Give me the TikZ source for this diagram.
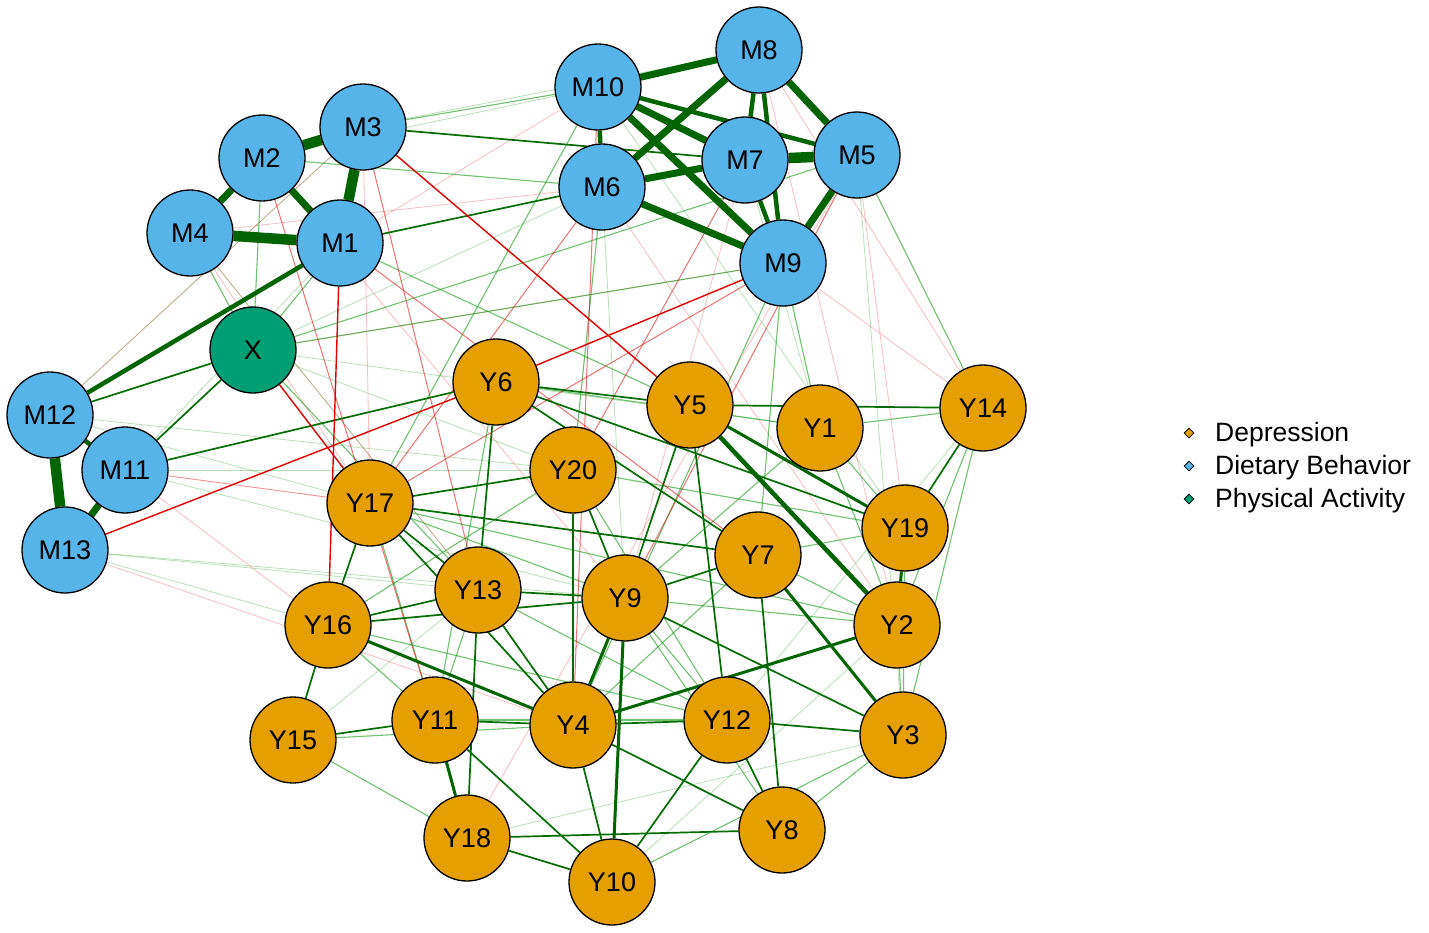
\documentclass[tikz,border=0pt]{standalone}
\usepackage{fontspec}
\setmainfont{Liberation Sans}
\usetikzlibrary{backgrounds,shapes.geometric}
\definecolor{cOr}{HTML}{E69F00}
\definecolor{cBl}{HTML}{56B4E9}
\definecolor{cGr}{HTML}{009E73}
\definecolor{dg}{HTML}{006400}
\definecolor{lg}{HTML}{119911}
\definecolor{rd}{HTML}{E00000}
\tikzset{
  nd/.style={circle,draw=black,line width=1.3pt,minimum size=86pt,inner sep=0pt,font=\fontsize{27}{29}\selectfont},
  yn/.style={nd,fill=cOr},
  mn/.style={nd,fill=cBl},
  xn/.style={nd,fill=cGr},
  gA/.style={dg,line width=10.5pt},
  gB/.style={dg,line width=7pt},
  gC/.style={dg,line width=4.5pt},
  gD/.style={dg,line width=3pt},
  gE/.style={dg!85!lg,line width=1.7pt},
  gF/.style={lg,line width=1.1pt,opacity=.6},
  gG/.style={lg,line width=.8pt,opacity=.3},
  rA/.style={rd,line width=1.4pt},
  rB/.style={rd,line width=1pt,opacity=.55},
  rC/.style={rd,line width=.8pt,opacity=.25},
  leg/.style={anchor=west,font=\fontsize{26.5}{28}\selectfont,inner sep=0pt},
  dia/.style={diamond,draw=black,line width=.8pt,inner sep=0pt,minimum size=10pt}
}
\begin{document}
\begin{tikzpicture}[x=1pt,y=-1pt]
\useasboundingbox (0,0) rectangle (1429,932);
% nodes
\node[mn] (M8) at (759,50) {M8};
\node[mn] (M10) at (598,87) {M10};
\node[mn] (M3) at (363,127) {M3};
\node[mn] (M2) at (262,158) {M2};
\node[mn] (M7) at (745,160) {M7};
\node[mn] (M5) at (857,155) {M5};
\node[mn] (M6) at (602,187) {M6};
\node[mn] (M4) at (190,233) {M4};
\node[mn] (M1) at (340,243) {M1};
\node[mn] (M9) at (783,263) {M9};
\node[xn] (X) at (253,350) {X};
\node[mn] (M12) at (50,415) {M12};
\node[mn] (M11) at (125,470) {M11};
\node[mn] (M13) at (65,550) {M13};
\node[yn] (Y6) at (496,382) {Y6};
\node[yn] (Y5) at (690,405) {Y5};
\node[yn] (Y1) at (820,428) {Y1};
\node[yn] (Y14) at (983,408) {Y14};
\node[yn] (Y20) at (573,470) {Y20};
\node[yn] (Y17) at (370,503) {Y17};
\node[yn] (Y19) at (905,528) {Y19};
\node[yn] (Y7) at (758,555) {Y7};
\node[yn] (Y13) at (478,590) {Y13};
\node[yn] (Y9) at (625,598) {Y9};
\node[yn] (Y16) at (328,625) {Y16};
\node[yn] (Y2) at (897,625) {Y2};
\node[yn] (Y15) at (293,740) {Y15};
\node[yn] (Y11) at (435,720) {Y11};
\node[yn] (Y4) at (573,725) {Y4};
\node[yn] (Y12) at (727,720) {Y12};
\node[yn] (Y3) at (903,735) {Y3};
\node[yn] (Y18) at (467,838) {Y18};
\node[yn] (Y8) at (782,830) {Y8};
\node[yn] (Y10) at (612,882) {Y10};
% edges
\begin{scope}[on background layer]
\foreach \a/\b in {M12/Y17,M11/Y9,M13/Y13,M11/M1,M12/M3,M3/M8,M10/Y19,M5/Y3,M7/Y1,M6/Y9,X/Y20,X/Y1,M4/Y13,M13/Y16,M11/Y20,Y15/Y13,Y18/Y3,Y10/Y2,Y14/Y12,M10/M2,M6/X,M12/Y20,M13/Y9}
  \draw[gG] (\a) -- (\b);
\foreach \a/\b in {M12/M3,M11/Y17,M4/Y13,M2/Y9,M13/Y4,M12/Y16,M11/Y7,M8/Y14,M5/Y19,M9/Y14,M7/Y9,M8/Y2,M4/Y17,M10/M1,M6/M4,M5/Y18,M9/X,M3/Y17,M6/Y2}
  \draw[rC] (\a) -- (\b);
\foreach \a/\b in {Y15/Y18,Y14/Y2,Y14/Y3,Y14/Y1,Y1/Y19,Y9/Y2,Y16/Y11,Y6/Y1,Y6/Y11,Y13/Y11,Y20/Y16,Y17/Y11,Y17/Y2,Y15/Y4,Y1/Y2,Y1/Y9,Y7/Y2,Y7/Y19,Y7/Y4,Y20/Y19,Y20/Y12,Y19/Y3,Y2/Y3,Y13/Y12,Y9/Y12,Y9/Y8,Y3/Y8,Y16/Y12,Y17/Y9,Y10/Y3,Y11/Y12,X/Y13,X/M5,X/M9,M3/M10,M2/M6,M1/Y5,M9/Y4,M9/Y1,M6/Y20,M10/Y17,M4/X,M2/X,M1/X,M9/Y7,M5/Y14}
  \draw[gF] (\a) -- (\b);
\foreach \a/\b in {M1/Y7,M6/Y17,M5/Y9,M3/Y13,M9/Y17,M10/Y4,M7/Y20,M2/Y11}
  \draw[rB] (\a) -- (\b);
\foreach \a/\b in {Y6/Y5,Y6/Y13,Y17/Y20,Y17/Y7,Y17/Y13,Y17/Y16,Y20/Y4,Y20/Y9,Y13/Y9,Y16/Y13,Y5/Y9,Y5/Y12,Y5/Y14,Y12/Y3,Y4/Y12,Y4/Y8,Y12/Y8,Y12/Y10,Y18/Y8,Y7/Y8,Y16/Y15,Y15/Y11,Y11/Y4,Y13/Y18,Y13/Y4,Y4/Y10,Y18/Y10,Y11/Y10,M12/X,M11/X,Y6/Y19,Y6/Y7,Y9/Y3,Y16/Y9,Y14/Y19,Y17/Y4,M3/M7,M1/M6,M11/Y6,Y9/Y7}
  \draw[gE] (\a) -- (\b);
\foreach \a/\b in {M13/Y6,X/Y17,M1/Y16,M3/Y5,Y6/M9}
  \draw[rA] (\a) -- (\b);
\foreach \a/\b in {Y5/Y19,Y7/Y3,Y4/Y2,Y16/Y4,Y9/Y10,Y11/Y18,Y9/Y4,Y19/Y2}
  \draw[gD] (\a) -- (\b);
\foreach \a/\b in {M10/M5,M8/M7,M7/M9,M8/M9,M10/M6,M12/M1,M12/M11,Y5/Y2}
  \draw[gC] (\a) -- (\b);
\foreach \a/\b in {M10/M8,M7/M6,M6/M9,M5/M9,M2/M4,M10/M7,M8/M6,M8/M5,M10/M9,M2/M1,M11/M13}
  \draw[gB] (\a) -- (\b);
\foreach \a/\b in {M7/M5,M4/M1,M3/M2,M3/M1,M12/M13}
  \draw[gA] (\a) -- (\b);
\end{scope}
% legend
\node[dia,fill=cOr] (d1) at (1189,433) {};
\node[dia,fill=cBl] (d2) at (1189,466) {};
\node[dia,fill=cGr] (d3) at (1189,499) {};
\node[leg] (l1) at (1215,435) {Depression};
\node[leg] (l2) at (1215,468) {Dietary Behavior};
\node[leg] (l3) at (1215,501) {Physical Activity};
\end{tikzpicture}
\end{document}
